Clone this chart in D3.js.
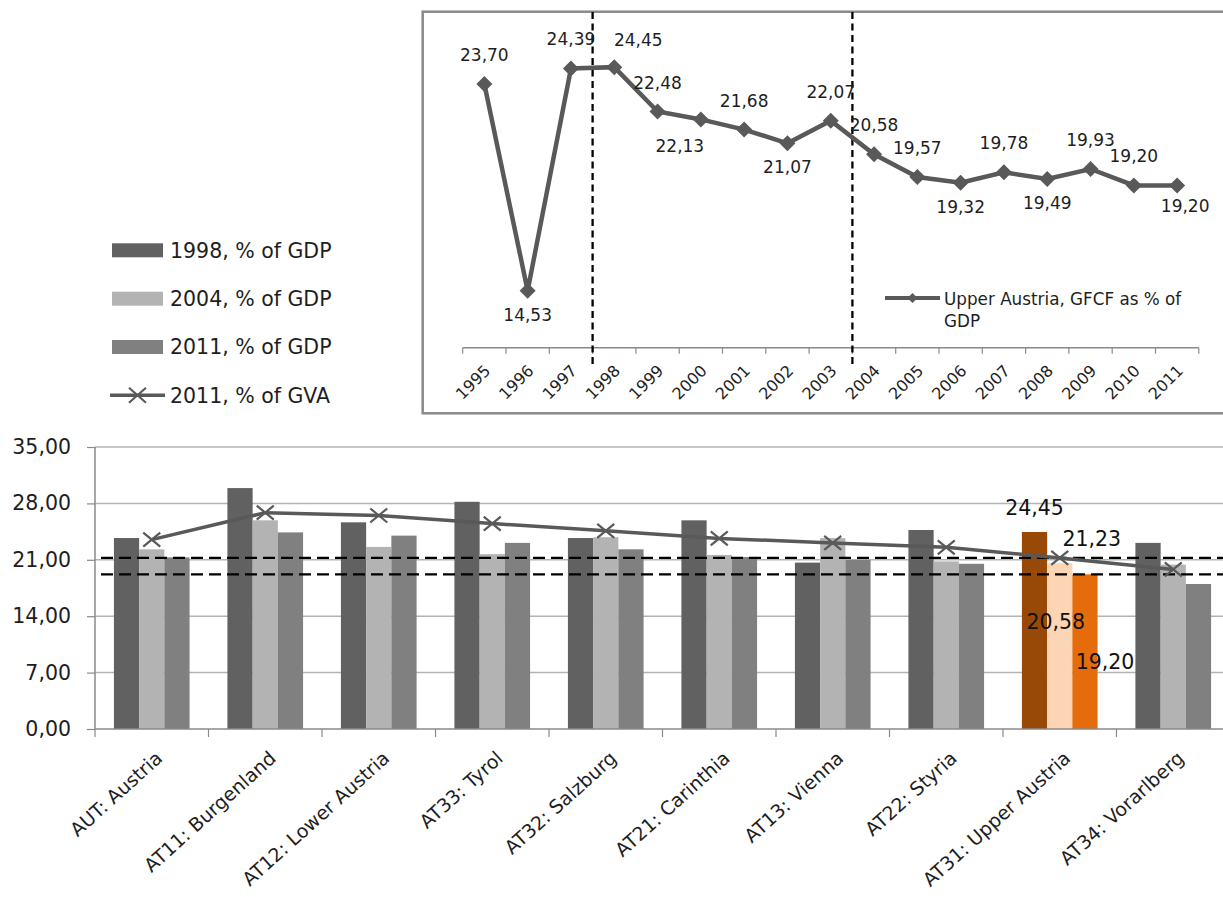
<!DOCTYPE html>
<html><head><meta charset="utf-8">
<script src="https://cdn.jsdelivr.net/npm/d3@7"></script>
<style>
body{margin:0;background:#fff;}
svg{display:block;font-family:"DejaVu Sans",Verdana,sans-serif;}
</style>
</head><body>
<svg id="chart" width="1223" height="897"></svg>
<script>
// ---------- data ----------
const years = ["1995","1996","1997","1998","1999","2000","2001","2002","2003","2004","2005","2006","2007","2008","2009","2010","2011"];
const upperAustriaGFCF = [23.70,14.53,24.39,24.45,22.48,22.13,21.68,21.07,22.07,20.58,19.57,19.32,19.78,19.49,19.93,19.20,19.20];
const insetLabelPlacement = ["t","b","t","tr","t","bl","t","b","t","t","t","b","t","b","t","t","br"];
const markerYears = ["1998","2004"];
const insetLegendLines = ["Upper Austria, GFCF as % of","GDP"];

const regions = ["AUT: Austria","AT11: Burgenland","AT12: Lower Austria","AT33: Tyrol","AT32: Salzburg","AT21: Carinthia","AT13: Vienna","AT22: Styria","AT31: Upper Austria","AT34: Vorarlberg"];
const gdp1998 = [23.70,29.90,25.65,28.20,23.70,25.90,20.65,24.70,24.45,23.10];
const gdp2004 = [22.30,25.90,22.60,21.70,23.80,21.60,23.70,20.80,20.58,20.40];
const gdp2011 = [21.30,24.40,24.00,23.10,22.30,21.35,21.00,20.50,19.20,18.00];
const gva2011 = [23.50,26.85,26.50,25.50,24.60,23.65,23.10,22.55,21.23,19.80];
const seriesNames = ["1998, % of GDP","2004, % of GDP","2011, % of GDP","2011, % of GVA"];
const yTicks = [0,7,14,21,28,35];
const refLines = [21.23,19.20];
const highlightRegion = "AT31: Upper Austria";

// ---------- styles ----------
const barColors = ["#616161","#b3b3b3","#808080"];
const hiColors = ["#984807","#fcd5b5","#e46c0a"];
const lineColor = "#595959";
const txt = "#1e1e1e";
const fmt = v => d3.format(".2f")(v).replace(".", ",");

const svg = d3.select("#chart");

// ================= INSET CHART =================
const inset = svg.append("g");
inset.append("rect").attr("x",422.7).attr("y",11.7).attr("width",830).attr("height",401.6)
  .attr("fill","none").attr("stroke","#8a8a8a").attr("stroke-width",2.5);

const xIn = d3.scaleBand().domain(years).range([462.7,1198.8]);
const yIn = d3.scaleLinear().domain([12,26]).range([347.7,32.2]);
const cx = d => xIn(d) + xIn.bandwidth()/2;

// axis
const axIn = inset.append("g").attr("transform","translate(0,347.7)")
  .call(d3.axisBottom(xIn).tickSize(0).tickPadding(0));
axIn.select(".domain").attr("stroke","#8a8a8a").attr("stroke-width",1.5).attr("d",`M462.7,0H1198.8`);
axIn.selectAll(".tick text").attr("y",0).attr("dy",0).attr("text-anchor","end")
  .attr("transform","translate(7,24) rotate(-45)")
  .attr("font-size",16).attr("fill",txt).attr("font-family","DejaVu Sans");
// boundary ticks
inset.append("g").selectAll("line").data(d3.range(years.length+1)).join("line")
  .attr("x1",i=>462.7+i*xIn.bandwidth()).attr("x2",i=>462.7+i*xIn.bandwidth())
  .attr("y1",347.7).attr("y2",353.7).attr("stroke","#8a8a8a").attr("stroke-width",1.2);

// dashed verticals
inset.append("g").selectAll("line").data(markerYears).join("line")
  .attr("x1",d=>xIn(d)).attr("x2",d=>xIn(d)).attr("y1",12).attr("y2",365)
  .attr("stroke","#000").attr("stroke-width",2.3).attr("stroke-dasharray","7,4.5");

const pts = years.map((y,i)=>({year:y,v:upperAustriaGFCF[i],pos:insetLabelPlacement[i]}));
inset.append("path").datum(pts)
  .attr("d",d3.line().x(d=>cx(d.year)).y(d=>yIn(d.v)))
  .attr("fill","none").attr("stroke",lineColor).attr("stroke-width",4.5);
const diamond = r => `M0,${-r}L${r},0L0,${r}L${-r},0Z`;
inset.append("g").selectAll("path").data(pts).join("path")
  .attr("transform",d=>`translate(${cx(d.year)},${yIn(d.v)})`)
  .attr("d",diamond(8)).attr("fill",lineColor);
const offs = {t:[0,-23],b:[0,30],tr:[24,-21.5],bl:[-21,33],br:[8,27]};
inset.append("g").selectAll("text").data(pts).join("text")
  .attr("x",d=>cx(d.year)+offs[d.pos][0]).attr("y",d=>yIn(d.v)+offs[d.pos][1])
  .attr("text-anchor","middle").attr("font-size",17).attr("fill",txt)
  .text(d=>fmt(d.v));

// inset legend
inset.append("line").attr("x1",885).attr("x2",940).attr("y1",298).attr("y2",298)
  .attr("stroke",lineColor).attr("stroke-width",4);
inset.append("path").attr("transform","translate(912.5,298)").attr("d",diamond(5)).attr("fill",lineColor);
inset.append("text").attr("x",944).attr("y",305).attr("font-size",16.8).attr("fill",txt)
  .selectAll("tspan").data(insetLegendLines).join("tspan")
  .attr("x",944).attr("dy",(d,i)=>i?22:0).text(d=>d);

// ================= BOTTOM CHART =================
const y = d3.scaleLinear().domain([0,35]).range([729,447]);
const x = d3.scaleBand().domain(regions).range([95,1230]);
const bw = x.bandwidth();
const xs = d3.scaleBand().domain([0,1,2]).range([bw/6, bw*5/6]);
const bc = r => x(r)+bw/2;

// gridlines
svg.append("g").selectAll("line").data(yTicks.filter(t=>t>0)).join("line")
  .attr("x1",95).attr("x2",1230).attr("y1",d=>y(d)).attr("y2",d=>y(d))
  .attr("stroke","#b4b4b4").attr("stroke-width",1.5);

// y axis
const ay = svg.append("g").attr("transform","translate(95,0)")
  .call(d3.axisLeft(y).tickValues(yTicks).tickFormat(fmt).tickSize(8).tickPadding(16));
ay.select(".domain").attr("stroke","#8a8a8a").attr("stroke-width",1.5).attr("d","M0,447V729");
ay.selectAll(".tick line").attr("stroke","#8a8a8a").attr("stroke-width",1.2);
ay.selectAll(".tick text").attr("font-size",20.5).attr("fill",txt).attr("font-family","DejaVu Sans");

// bars
const series = [gdp1998,gdp2004,gdp2011];
const bars = [];
regions.forEach((r,i)=>series.forEach((s,k)=>bars.push({r,k,v:s[i]})));
svg.append("g").selectAll("rect").data(bars).join("rect")
  .attr("x",d=>x(d.r)+xs(d.k)).attr("width",xs.bandwidth())
  .attr("y",d=>y(d.v)).attr("height",d=>y(0)-y(d.v))
  .attr("fill",d=>d.r===highlightRegion?hiColors[d.k]:barColors[d.k]);

// x axis
const ax = svg.append("g").attr("transform","translate(0,729)")
  .call(d3.axisBottom(x).tickSize(0).tickPadding(0));
ax.select(".domain").attr("stroke","#8a8a8a").attr("stroke-width",1.5).attr("d","M95,0H1230");
ax.selectAll(".tick text").attr("y",0).attr("dy",0).attr("text-anchor","end")
  .attr("transform","translate(12,31) rotate(-42)")
  .attr("font-size",19).attr("fill",txt).attr("font-family","DejaVu Sans");
svg.append("g").selectAll("line").data(d3.range(regions.length+1)).join("line")
  .attr("x1",i=>95+i*bw).attr("x2",i=>95+i*bw).attr("y1",729).attr("y2",737)
  .attr("stroke","#8a8a8a").attr("stroke-width",1.2);

// dashed reference lines
svg.append("g").selectAll("line").data(refLines).join("line")
  .attr("x1",101).attr("x2",1230).attr("y1",d=>y(d)).attr("y2",d=>y(d))
  .attr("stroke","#000").attr("stroke-width",2.2).attr("stroke-dasharray","12,6");

// GVA line
const gvaPts = regions.map((r,i)=>({r,v:gva2011[i]}));
svg.append("path").datum(gvaPts)
  .attr("d",d3.line().x(d=>bc(d.r)).y(d=>y(d.v)))
  .attr("fill","none").attr("stroke",lineColor).attr("stroke-width",3.5);
const xMark = (sel,w,h) => sel.attr("d",`M${-w},${-h}L${w},${h}M${-w},${h}L${w},${-h}`)
  .attr("stroke",lineColor).attr("stroke-width",2.2).attr("fill","none");
svg.append("g").selectAll("path").data(gvaPts).join("path")
  .attr("transform",d=>`translate(${bc(d.r)},${y(d.v)})`).call(xMark,8.5,7);

// data labels for highlighted region
const hi = regions.indexOf(highlightRegion);
const hiLabels = [
  {v:gdp1998[hi], x:x(highlightRegion)+xs(0)+xs.bandwidth()/2, dx:0, dy:-17},
  {v:gva2011[hi], x:bc(highlightRegion), dx:32, dy:-12},
  {v:gdp2004[hi], x:x(highlightRegion)+xs(1)+xs.bandwidth()/2, dx:-4, dy:66},
  {v:gdp2011[hi], x:x(highlightRegion)+xs(2)+xs.bandwidth()/2, dx:20, dy:95}
];
svg.append("g").selectAll("text").data(hiLabels).join("text")
  .attr("x",d=>d.x+d.dx).attr("y",d=>y(d.v)+d.dy).attr("text-anchor","middle")
  .attr("font-size",20.5).attr("fill","#111").text(d=>fmt(d.v));

// ================= MAIN LEGEND =================
const lg = svg.append("g");
const lgY = [250.3,298.7,347,395.3];
seriesNames.forEach((name,i)=>{
  if(i<3){
    lg.append("rect").attr("x",112).attr("y",lgY[i]-7).attr("width",51).attr("height",14).attr("fill",barColors[i]);
  } else {
    lg.append("line").attr("x1",110).attr("x2",165).attr("y1",lgY[i]).attr("y2",lgY[i])
      .attr("stroke",lineColor).attr("stroke-width",3.5);
    lg.append("path").attr("transform",`translate(137.5,${lgY[i]})`).call(xMark,8.5,7.5);
  }
  lg.append("text").attr("x",170).attr("y",lgY[i]+7.3).attr("font-size",20.5).attr("fill",txt).text(name);
});
</script>
</body></html>
